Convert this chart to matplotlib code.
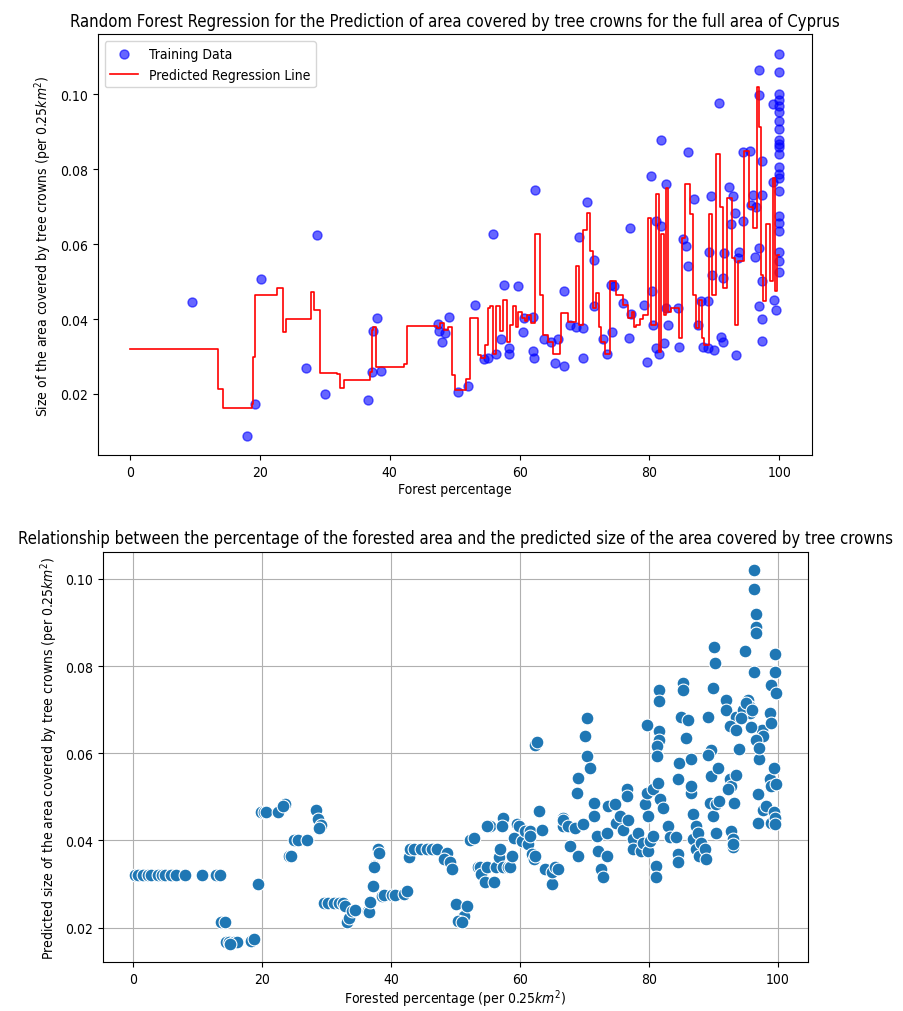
import matplotlib
matplotlib.use("Agg")
import matplotlib.pyplot as plt

plt.rcParams['font.family'] = ['DejaVu Sans']
plt.rcParams['font.stretch'] = 'condensed'

# training data (top chart)
train_x = [9.6, 18.0, 19.2, 20.2, 27.1, 28.8, 30.0, 36.7, 37.2, 37.4, 38.1, 38.6,
           47.4, 47.6, 48.0, 48.5, 49.1, 50.5, 52.0, 53.1, 54.5, 55.1, 55.9, 56.3,
           57.2, 57.6, 58.3, 58.3, 59.8, 60.5, 60.6, 62.1, 62.1, 62.2, 62.4, 63.8,
           64.9, 65.5, 65.9, 66.8, 66.9, 67.7, 68.7, 69.1, 69.7, 69.7, 70.3, 71.5,
           71.5, 72.8, 73.5, 74.0, 74.3, 74.6, 75.9, 76.8, 77.0, 77.2, 79.1, 79.6,
           80.2, 80.4, 80.5, 81.0, 81.0, 81.5, 81.8, 81.8, 82.3, 82.6, 82.6, 82.8,
           84.4, 84.6, 85.1, 85.6, 85.9, 86.0, 86.9, 87.4, 87.9, 88.2, 89.0, 89.0,
           89.2, 89.5, 89.7, 90.0, 90.7, 91.0, 91.3, 91.3, 91.5, 92.3, 92.6, 92.8,
           93.1, 93.3, 93.6, 93.8, 94.4, 94.4, 95.5, 95.6, 95.9, 96.3, 96.4, 96.8,
           96.9, 96.9, 96.9, 97.3, 97.4, 97.4, 97.4, 97.3, 99.0, 99.0, 99.2, 99.5,
           100, 100, 100, 100, 100, 100, 100, 100, 100, 100, 100, 100, 100, 100,
           100, 100, 100, 100, 100, 100, 100, 100]
train_y = [0.0445, 0.0087, 0.0174, 0.0506, 0.0269, 0.0624, 0.0200, 0.0183, 0.0258, 0.0368, 0.0402, 0.0262,
           0.0388, 0.0368, 0.0339, 0.0362, 0.0406, 0.0205, 0.0221, 0.0437, 0.0293, 0.0295, 0.0628, 0.0306,
           0.0348, 0.0492, 0.0306, 0.0322, 0.0489, 0.0366, 0.0404, 0.0405, 0.0315, 0.0295, 0.0744, 0.0346,
           0.0340, 0.0284, 0.0346, 0.0275, 0.0474, 0.0383, 0.0380, 0.0619, 0.0377, 0.0297, 0.0712, 0.0557,
           0.0434, 0.0346, 0.0308, 0.0492, 0.0366, 0.0489, 0.0442, 0.0349, 0.0644, 0.0413, 0.0438, 0.0286,
           0.0783, 0.0474, 0.0383, 0.0662, 0.0323, 0.0306, 0.0648, 0.0877, 0.0335, 0.0762, 0.0429, 0.0384,
           0.0429, 0.0326, 0.0614, 0.0595, 0.0847, 0.0543, 0.0720, 0.0384, 0.0449, 0.0326, 0.0447, 0.0323,
           0.0579, 0.0729, 0.0519, 0.0317, 0.0977, 0.0353, 0.0340, 0.0510, 0.0577, 0.0753, 0.0655, 0.0729,
           0.0684, 0.0304, 0.0564, 0.0579, 0.0662, 0.0847, 0.0850, 0.0705, 0.0732, 0.0565, 0.0698, 0.0590,
           0.1066, 0.0997, 0.0435, 0.0823, 0.0732, 0.0502, 0.0400, 0.0342, 0.0975, 0.0765, 0.0451, 0.0425,
           0.1109, 0.1060, 0.1002, 0.0984, 0.0970, 0.0952, 0.0930, 0.0908, 0.0877, 0.0868, 0.0859, 0.0841,
           0.0805, 0.0787, 0.0778, 0.0742, 0.0675, 0.0657, 0.0635, 0.0579, 0.0554, 0.0527]

# regression line breakpoints (step, post)
line_x = [0, 13.6, 14.3, 18.7, 19.0, 19.3, 22.6, 23.5, 24.0, 27.8, 28.3, 29.3, 31.8, 32.4,
          33.0, 36.9, 37.2, 37.4, 37.9, 42.2, 42.6, 47.2, 47.8, 48.3, 49.0, 49.6, 50.0, 51.8,
          52.3, 53.6, 54.1, 54.6, 55.1, 55.4, 55.9, 56.4, 57.0, 57.4, 58.0, 58.5, 59.0, 59.5,
          59.8, 60.3, 60.8, 61.2, 61.7, 62.3, 63.1, 63.6, 64.4, 65.1, 66.2, 66.4, 67.4, 68.7,
          69.2, 69.8, 70.4, 70.8, 71.3, 71.8, 72.2, 72.6, 73.1, 73.9, 74.9, 75.9, 76.7, 77.3,
          77.6, 78.0, 78.5, 79.0, 79.7, 80.3, 81.0, 81.4, 81.8, 82.3, 82.6, 82.8, 83.3, 84.5,
          85.0, 85.5, 86.2, 86.7, 87.2, 87.6, 88.1, 88.4, 89.1, 89.7, 90.3, 90.8, 91.3, 91.9,
          92.7, 93.2, 93.7, 94.6, 95.3, 96.0, 96.6, 96.9, 97.2, 97.5, 98.0, 98.6, 99.0, 99.3,
          99.6, 100]
line_y = [0.0320, 0.0214, 0.0163, 0.0174, 0.0299, 0.0465, 0.0483, 0.0366, 0.0400, 0.0472, 0.0425, 0.0256, 0.0254, 0.0216,
          0.0238, 0.0259, 0.0371, 0.0380, 0.0272, 0.0281, 0.0382, 0.0375, 0.0390, 0.0370, 0.0380, 0.0250, 0.0210, 0.0241,
          0.0402, 0.0304, 0.0295, 0.0330, 0.0429, 0.0434, 0.0308, 0.0434, 0.0367, 0.0451, 0.0340, 0.0384, 0.0434, 0.0380,
          0.0420, 0.0402, 0.0395, 0.0410, 0.0390, 0.0626, 0.0465, 0.0358, 0.0340, 0.0308, 0.0340, 0.0416, 0.0393, 0.0541,
          0.0384, 0.0639, 0.0684, 0.0581, 0.0429, 0.0470, 0.0380, 0.0340, 0.0308, 0.0501, 0.0465, 0.0438, 0.0402, 0.0420,
          0.0380, 0.0384, 0.0400, 0.0411, 0.0671, 0.0384, 0.0733, 0.0313, 0.0626, 0.0411, 0.0750, 0.0420, 0.0429, 0.0349,
          0.0617, 0.0760, 0.0680, 0.0465, 0.0375, 0.0450, 0.0349, 0.0330, 0.0680, 0.0465, 0.0841, 0.0698, 0.0483, 0.0724,
          0.0563, 0.0384, 0.0554, 0.0850, 0.0698, 0.0644, 0.1020, 0.0912, 0.0519, 0.0447, 0.0653, 0.0501, 0.0778, 0.0474,
          0.0572, 0.0572]

# predictions (bottom chart)
pred_x = [0.3, 0.8, 1.5, 2.3, 2.8, 3.9, 4.4, 4.9, 5.9, 6.7, 8.0, 10.6, 12.9, 13.4,
          13.6, 14.2, 14.4, 14.9, 15.6, 16.1, 18.2, 18.7, 15.0, 19.3,
          19.8, 20.3, 20.6, 22.5, 23.6, 23.2, 24.2, 24.5, 25.0, 25.5, 27.0,
          28.3, 28.6, 29.1, 28.8, 29.6, 30.2, 31.2, 31.9, 32.6, 32.8, 33.2, 33.4,
          34.0, 34.4, 36.4, 36.6, 36.8, 37.2, 37.3, 37.3, 37.9, 38.1,
          38.6, 38.9, 40.2, 40.6, 42.0, 42.5, 42.8, 43.0, 43.5, 44.6, 45.6, 46.4, 47.1,
          48.7, 48.2, 49.1, 49.5, 50.0, 50.7, 51.3, 51.8, 50.4, 51.0,
          52.3, 52.8, 53.4, 53.8, 54.0, 54.6, 54.9, 55.4, 55.9, 56.2, 54.8, 56.7, 56.9,
          57.4, 57.4, 57.2, 58.2, 58.5, 58.7, 59.0, 59.5, 59.8, 60.3, 60.8, 61.3, 61.6,
          61.6, 61.8, 62.1, 62.3, 62.3, 62.6, 62.9, 63.4, 63.9, 64.9, 64.9, 65.4, 65.9,
          66.7, 66.7, 66.7, 67.5, 67.7, 68.5, 69.0, 69.0, 68.8, 69.8, 70.3, 70.1, 70.3,
          70.8, 71.4, 71.4, 71.9, 72.1, 72.6, 72.9, 73.4, 73.4, 73.7, 74.7, 74.9, 75.5,
          76.0, 76.5, 76.5, 76.8, 77.5, 77.5, 78.3, 78.8, 79.1, 79.3, 79.6, 79.6, 79.9,
          79.9, 80.1, 80.6, 80.6, 81.1, 81.1, 81.4, 81.5, 81.5, 81.5, 81.6, 81.3, 81.3,
          81.7, 82.2, 82.9, 83.2, 84.2, 84.5, 84.5, 84.5, 84.7, 85.0, 85.3, 85.3, 85.8,
          86.0, 86.5, 86.5, 86.5, 86.8, 86.8, 87.3, 87.3, 87.6, 87.8, 88.1, 88.6, 88.9,
          89.1, 89.4, 89.6, 89.1, 89.6, 89.9, 89.9, 90.0, 90.2, 90.4, 90.4, 90.7, 90.9,
          91.9, 91.9, 92.5, 92.7, 92.3, 92.7, 93.0, 93.0, 93.0, 93.2, 93.5, 93.5, 92.5,
          93.5, 94.0, 94.8, 95.3, 95.5, 95.7, 96.3, 96.3, 96.6, 96.6, 96.6, 96.3, 96.9,
          96.9, 97.1, 97.5, 97.7, 96.6, 97.1, 97.6, 98.1, 98.7, 98.9, 98.9, 98.8, 98.9,
          98.9, 99.4, 99.6, 99.6, 99.7, 99.7, 99.4, 99.6, 99.6,
          94.5, 95.0, 95.8, 94.2, 96.0]
pred_y = [0.0320, 0.0320, 0.0320, 0.0320, 0.0320, 0.0320, 0.0320, 0.0320, 0.0320, 0.0320, 0.0320, 0.0320, 0.0320, 0.0320,
          0.0214, 0.0214, 0.0167, 0.0167, 0.0167, 0.0167, 0.0169, 0.0173, 0.0163, 0.0300,
          0.0466, 0.0466, 0.0466, 0.0466, 0.0483, 0.0478, 0.0365, 0.0365, 0.0401, 0.0401, 0.0401,
          0.0471, 0.0450, 0.0436, 0.0428, 0.0256, 0.0256, 0.0256, 0.0256, 0.0256, 0.0250, 0.0214, 0.0222,
          0.0237, 0.0240, 0.0237, 0.0235, 0.0258, 0.0296, 0.0342, 0.0340, 0.0380, 0.0372,
          0.0273, 0.0274, 0.0274, 0.0274, 0.0277, 0.0284, 0.0361, 0.0380, 0.0380, 0.0380, 0.0380, 0.0380, 0.0380,
          0.0372, 0.0357, 0.0350, 0.0334, 0.0254, 0.0216, 0.0227, 0.0250, 0.0216, 0.0214,
          0.0402, 0.0406, 0.0340, 0.0338, 0.0322, 0.0304, 0.0338, 0.0433, 0.0304, 0.0338, 0.0434, 0.0361, 0.0380,
          0.0452, 0.0338, 0.0433, 0.0338, 0.0338, 0.0364, 0.0406, 0.0437, 0.0433, 0.0399, 0.0422, 0.0391, 0.0422,
          0.0410, 0.0368, 0.0357, 0.0365, 0.0620, 0.0625, 0.0467, 0.0425, 0.0334, 0.0300, 0.0327, 0.0338, 0.0334,
          0.0452, 0.0433, 0.0448, 0.0433, 0.0388, 0.0429, 0.0365, 0.0544, 0.0510, 0.0437, 0.0681, 0.0639, 0.0593,
          0.0567, 0.0487, 0.0456, 0.0410, 0.0376, 0.0334, 0.0315, 0.0365, 0.0418, 0.0479, 0.0483, 0.0441, 0.0456,
          0.0425, 0.0517, 0.0502, 0.0448, 0.0403, 0.0380, 0.0418, 0.0376, 0.0395, 0.0483, 0.0510, 0.0665, 0.0456,
          0.0376, 0.0399, 0.0410, 0.0517, 0.0342, 0.0315, 0.0532, 0.0746, 0.0721, 0.0650, 0.0631, 0.0616, 0.0593,
          0.0494, 0.0475, 0.0433, 0.0407, 0.0407, 0.0369, 0.0350, 0.0540, 0.0578, 0.0684, 0.0761, 0.0746, 0.0635,
          0.0677, 0.0586, 0.0510, 0.0525, 0.0460, 0.0403, 0.0433, 0.0380, 0.0418, 0.0365, 0.0395, 0.0380, 0.0357,
          0.0684, 0.0487, 0.0608, 0.0597, 0.0548, 0.0749, 0.0456, 0.0845, 0.0808, 0.0483, 0.0418, 0.0567, 0.0490,
          0.0723, 0.0700, 0.0540, 0.0525, 0.0517, 0.0422, 0.0403, 0.0384, 0.0391, 0.0487, 0.0551, 0.0684, 0.0662,
          0.0654, 0.0610, 0.0835, 0.0723, 0.0708, 0.0692, 0.1020, 0.0978, 0.0919, 0.0889, 0.0875, 0.0787, 0.0506,
          0.0441, 0.0586, 0.0654, 0.0639, 0.0631, 0.0612, 0.0471, 0.0479, 0.0692, 0.0669, 0.0757, 0.0540, 0.0525,
          0.0441, 0.0567, 0.0828, 0.0787, 0.0739, 0.0529, 0.0466, 0.0452, 0.0437,
          0.0700, 0.0715, 0.0660, 0.0680, 0.0700]

fig = plt.figure(figsize=(9.04, 10.12), dpi=100)

ax1 = fig.add_axes([0.108, 0.549, 0.79, 0.416])
ax1.scatter(train_x, train_y, color='blue', alpha=0.6, s=42, label='Training Data')
ax1.step(line_x, line_y, where='post', color='red', lw=1.2, label='Predicted Regression Line')
ax1.set_title('Random Forest Regression for the Prediction of area covered by tree crowns for the full area of Cyprus',
              fontsize=12)
ax1.set_xlabel('Forest percentage', fontsize=10, labelpad=2)
ax1.set_ylabel('Size of the area covered by tree crowns (per 0.25$km^2$)', fontsize=10)
ax1.legend(loc='upper left', fontsize=10)
ax1.tick_params(labelsize=10)

ax2 = fig.add_axes([0.114, 0.048, 0.78, 0.406])
ax2.scatter(pred_x, pred_y, color='#1f77b4', edgecolor='white', linewidth=0.8, s=85, zorder=3)
ax2.grid(True, color='#b0b0b0', lw=0.8)
ax2.set_axisbelow(True)
ax2.set_title('Relationship between the percentage of the forested area and the predicted size of the area covered by tree crowns',
              fontsize=12)
ax2.set_xlabel('Forested percentage (per 0.25$km^2$)', fontsize=10, labelpad=1)
ax2.set_ylabel('Predicted size of the area covered by tree crowns (per 0.25$km^2$)', fontsize=10)
ax2.set_xticks([0, 20, 40, 60, 80, 100])
ax2.tick_params(labelsize=10)

fig.savefig('out.png', dpi=100)
